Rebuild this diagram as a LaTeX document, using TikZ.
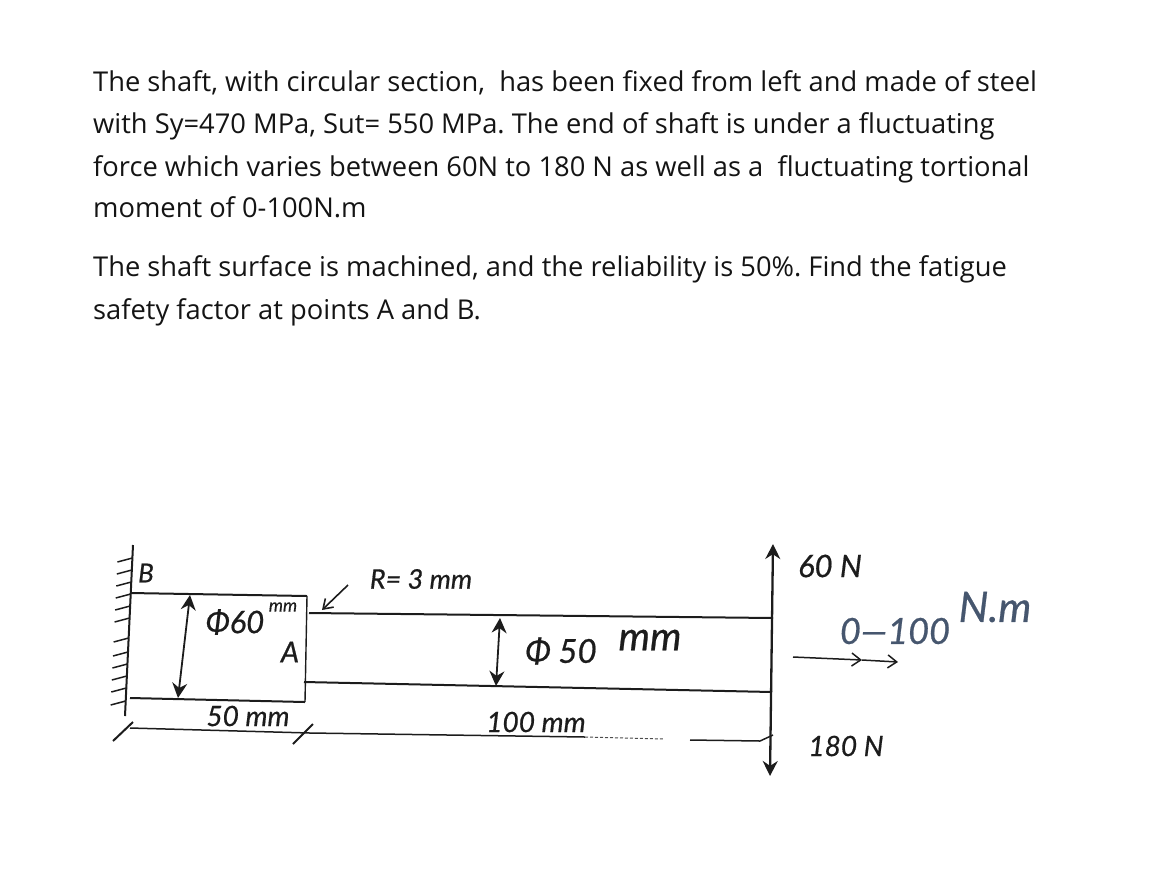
\documentclass[tikz,border=0pt]{standalone}
\usepackage{fontspec}
\setmainfont{Open Sans}
\newfontfamily\hand{Lato}[ItalicFeatures={FakeBold=0.6}]
\usetikzlibrary{arrows.meta}
\definecolor{ink}{HTML}{1C1C1C}
\definecolor{bluink}{HTML}{46566E}
\frenchspacing
\tikzset{
 prose/.style={anchor=base west,inner sep=0pt,font=\fontsize{27.3}{30}\selectfont,text=black!92},
 hw/.style={inner sep=0pt,font=\hand\fontsize{#1}{#1}\selectfont\itshape,text=ink},
 hwb/.style={inner sep=0pt,font=\hand\fontsize{#1}{#1}\selectfont\itshape,text=bluink},
 body/.style={line width=2pt,ink},
 thin body/.style={line width=1.4pt,ink},
 dimline/.style={line width=1.5pt,ink},
 bothtip/.style={{Stealth[length=15pt,width=15pt]}-{Stealth[length=15pt,width=15pt]},line width=1.8pt,ink},
}
\begin{document}
\begin{tikzpicture}[x=1pt,y=-1pt]
\useasboundingbox (0,0) rectangle (1172,879);
% problem statement
\node[prose] (l1) at (93,91) {The shaft, with circular section,\ \ has been fixed from left and made of steel};
\node[prose] (l2) at (93,133) {with Sy=470 MPa, Sut= 550 MPa. The end of shaft is under a fluctuating};
\node[prose] (l3) at (93,176) {force which varies between 60N to 180 N as well as a\ \ fluctuating tortional};
\node[prose] (l4) at (93,217) {moment of 0-100N.m};
\node[prose] (l5) at (93,276) {The shaft surface is machined, and the reliability is 50\%. Find the fatigue};
\node[prose] (l6) at (93,319) {safety factor at points A and B.};
% named points of the sketch
\coordinate (wallT) at (133,545);
\coordinate (wallB) at (125,716);
\coordinate (stepTL) at (130,593);
\coordinate (stepTR) at (307,596);
\coordinate (stepBL) at (130,698);
\coordinate (stepBR) at (305,702);
\coordinate (shaftTL) at (309,613);
\coordinate (shaftTR) at (773,618);
\coordinate (shaftBL) at (304,682);
\coordinate (shaftBR) at (772,692);
\coordinate (forceT) at (773,544);
\coordinate (forceB) at (770,776);
\coordinate (dimL) at (130,728);
\coordinate (dimM) at (310,733);
\coordinate (dimS) at (585,737);
\coordinate (dimD) at (664,739);
\coordinate (dimE) at (690,740);
\coordinate (dimR) at (760,741);
\coordinate (tickLa) at (133,722);
\coordinate (tickLb) at (113,741);
\coordinate (tickMa) at (313,724);
\coordinate (tickMb) at (293,744);
\coordinate (tickRa) at (773,735);
\coordinate (d60T) at (190,595);
\coordinate (d60B) at (178,698);
\coordinate (d50T) at (500,618);
\coordinate (d50B) at (496,686);
\coordinate (rA) at (348,585);
\coordinate (rB) at (322,610);
\coordinate (tqA) at (793,657);
\coordinate (tqM) at (862,660);
\coordinate (tqB) at (898,662);
% wall and hatching
\draw[body] (wallT) -- (wallB);
\foreach \y in {558,570,582,594,606,618,638,652,664,676,688,701}{
  \draw[line width=1.5pt,ink] ({133-(\y-545)*0.047},\y) -- ++(-15,4);
}
% stepped shaft
\draw[body] (stepTL) -- (stepTR);
\draw[body] (stepBL) -- (stepBR);
\draw[thin body] (stepTR) -- (stepBR);
\draw[body] (shaftTL) -- (shaftTR);
\draw[body] (shaftBL) -- (shaftBR);
% dimensions
\draw[bothtip] (d60T) -- (d60B);
\draw[bothtip] (d50T) -- (d50B);
\draw[dimline] (dimL) -- (dimM) -- (dimS);
\draw[line width=1pt,black!70,densely dashed] (dimS) -- (dimD);
\draw[dimline] (dimE) -- (dimR) -- (tickRa);
\draw[dimline,line width=2pt] (tickLa) -- (tickLb);
\draw[dimline,line width=2pt] (tickMa) -- (tickMb);
\draw[-{Straight Barb[length=9pt,width=12pt]},line width=1.6pt,ink] (rA) -- (rB);
% forces and torque
\draw[{Stealth[length=15pt,width=15pt]}-{Stealth[length=15pt,width=15pt]},line width=2.3pt,ink] (forceT) -- (forceB);
\draw[line width=1.5pt,ink,-{Straight Barb[length=9pt,width=13pt]}] (tqA) -- (tqM);
\draw[line width=1.5pt,ink,-{Straight Barb[length=9pt,width=13pt]}] (tqM) -- (tqB);
% handwritten labels
\node[hw=26] (tB) at (146,573) {B};
\node[hw=31] (tphi) at (235,622) {Φ60};
\node[hw=18] (tmm) at (283,607) {mm};
\node[hw=29] (tA) at (290,652) {A};
\node[hw=28] (t50) at (248,716) {50 mm};
\node[hw=27] (tR) at (421,579) {R= 3 mm};
\node[hw=33] (tphib) at (561,651) {Φ 50};
\node[hw=40] (tmmb) at (650,640) {mm};
\node[hw=28] (t100) at (536,722) {100 mm};
\node[hw=31] (t60N) at (830,566) {60 N};
\node[hwb=36] (t0) at (895,631) {0—100};
\node[hwb=42] (tNm) at (995,607) {N.m};
\node[hw=28] (t180) at (846,746) {180 N};
\end{tikzpicture}
\end{document}
